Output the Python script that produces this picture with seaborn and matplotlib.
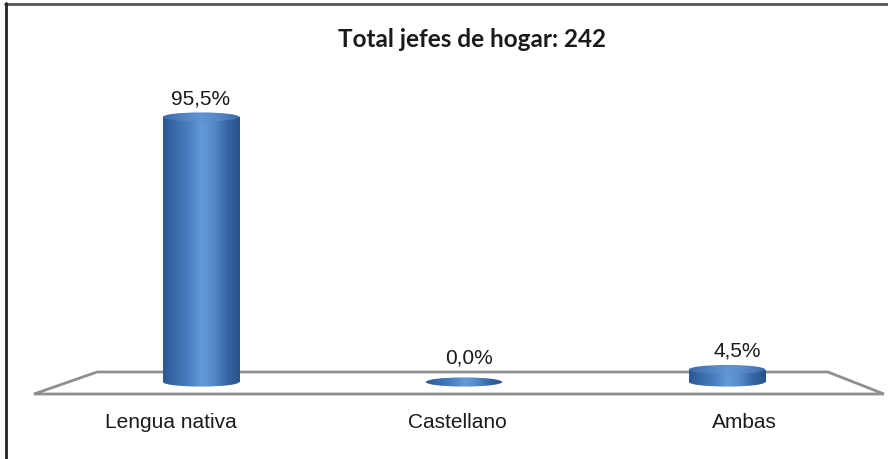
import numpy as np
import matplotlib
matplotlib.use("Agg")
import matplotlib.pyplot as plt
from matplotlib.patches import Ellipse, Polygon
from matplotlib.colors import LinearSegmentedColormap
from matplotlib.lines import Line2D
import seaborn as sns

# Data
categories = ["Lengua nativa", "Castellano", "Ambas"]
values = [95.5, 0.0, 4.5]
value_labels = ["95,5%", "0,0%", "4,5%"]
title = "Total jefes de hogar: 242"

sns.set_style("white")
plt.rcParams["font.family"] = ["Liberation Sans", "DejaVu Sans"]

W, H = 888, 460
fig = plt.figure(figsize=(W / 100, H / 100), dpi=100)
ax = fig.add_axes([0, 0, 1, 1])

# pixel mapping: category spacing 263 px, first bar centre at x=201 px
# baseline at y=383 px from top, 2.775 px per percent
px_x, px_y = 263.0, 2.775
x0, base = 201.0, H - 383.0

bar_w = 0.29
sns.barplot(x=categories, y=values, width=bar_w, ax=ax, color="#3d6fb0",
            zorder=3)
ax.set_xlim(-x0 / px_x, (W - x0) / px_x)
ax.set_ylim(-base / px_y, (H - base) / px_y)
ax.axis("off")

# cylinder shading
cyl = LinearSegmentedColormap.from_list(
    "cyl", ["#2c5892", "#3a6cad", "#4a7fc1", "#649ad7", "#5489c9", "#3766a5", "#28528b"])
top_cm = LinearSegmentedColormap.from_list(
    "top", ["#3a6bab", "#5080c0", "#6394d2", "#5585c4", "#3a69a8"])
grad = np.linspace(0, 1, 256).reshape(1, -1)
ell_h = 3.3

for p in ax.patches:
    x, w, h = p.get_x(), p.get_width(), p.get_height()
    p.set_visible(False)
    cx = x + w / 2
    bot = Ellipse((cx, 0), w, ell_h, facecolor="none", edgecolor="none")
    ax.add_patch(bot)
    im = ax.imshow(grad, cmap=cyl, aspect="auto", zorder=3,
                   extent=(x, x + w, -ell_h, h + ell_h))
    im.set_clip_path(bot)
    if h > 0:
        rect = plt.Rectangle((x, 0), w, h, facecolor="none", edgecolor="none")
        ax.add_patch(rect)
        im2 = ax.imshow(grad, cmap=cyl, aspect="auto", zorder=3,
                        extent=(x, x + w, -ell_h, h + ell_h))
        im2.set_clip_path(rect)
        top = Ellipse((cx, h), w, ell_h, facecolor="none", edgecolor="none")
        ax.add_patch(top)
        im3 = ax.imshow(grad, cmap=top_cm, aspect="auto", zorder=4,
                        extent=(x, x + w, h - ell_h, h + ell_h))
        im3.set_clip_path(top)

# value labels and category labels (category labels follow the floor's perspective)
for i, (v, lab) in enumerate(zip(values, value_labels)):
    ax.text(i + 0.02 * i, v + 7.0 + (2.0 if v == 0 else 0), lab, ha="center",
            va="center", fontsize=15, color="#1a1a1a", zorder=5)
    lx = (171 + 286.5 * i - x0) / px_x
    ax.text(lx, -14.3, categories[i], ha="center", va="center", fontsize=15,
            color="#1a1a1a", zorder=5)

# floor (layout, figure pixels)
def fp(x, y):
    return (x / W, 1 - y / H)

floor = Polygon([fp(97, 373), fp(828, 373), fp(884, 395), fp(34, 395)],
                closed=True, facecolor="white", edgecolor="#8f8f8f", lw=2,
                transform=fig.transFigure, zorder=1)
ax.add_patch(floor)

# frame: top and left only
fig.add_artist(Line2D([5 / W, 1], [1 - 4.5 / H] * 2, color="#555555", lw=2,
                      transform=fig.transFigure))
fig.add_artist(Line2D([5.5 / W] * 2, [0, 1 - 4 / H], color="#222222", lw=2,
                      transform=fig.transFigure))

fig.text(472 / W, 1 - 40 / H, title, ha="center", va="center", fontsize=17.5,
         fontweight="bold", family=["Lato", "DejaVu Sans"], color="#1a1a1a")

fig.savefig("out.png", dpi=100)
